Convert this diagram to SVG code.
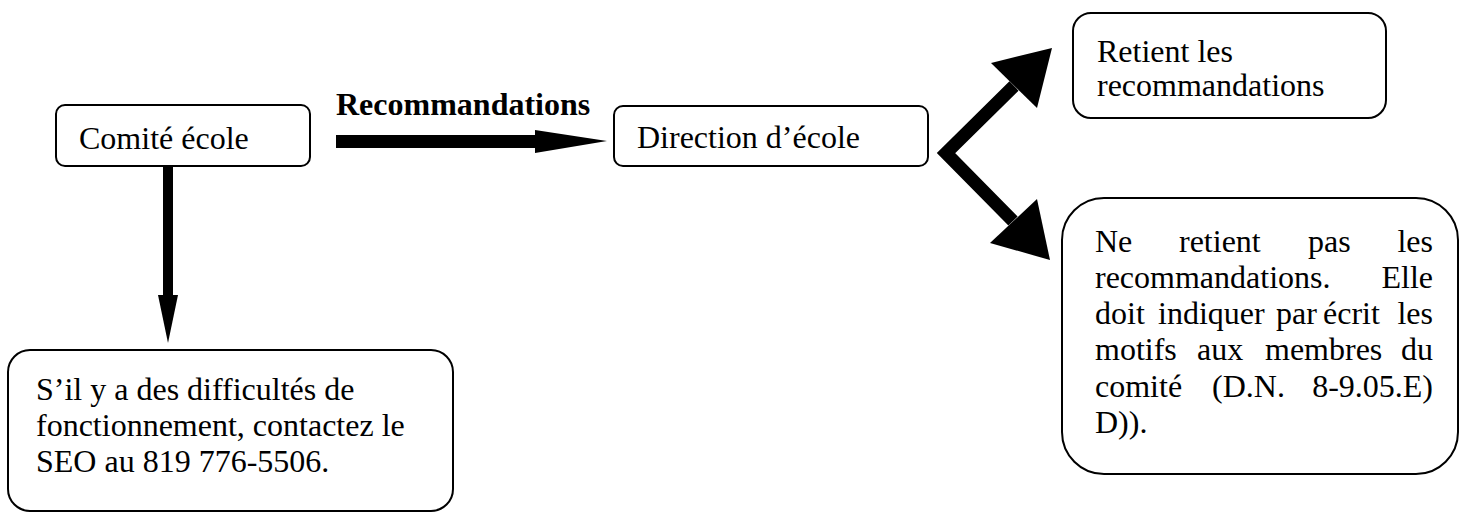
<svg xmlns="http://www.w3.org/2000/svg" width="1460" height="512" viewBox="0 0 1460 512">
<style>
.box{fill:#fff;stroke:#000;stroke-width:2}
.t{font-family:"Liberation Serif","Times New Roman",serif;font-size:32px;fill:#000}
.b{font-weight:bold}
.e{text-anchor:end}
.arr{fill:#000}
</style>
<rect width="1460" height="512" fill="#fff"/>
<g id="connectors">
  <rect class="arr" x="163" y="166" width="10" height="130"/>
  <polygon class="arr" points="158,295 178,295 168,343"/>
  <rect class="arr" x="336" y="135" width="200" height="13"/>
  <polygon class="arr" points="535,130 535,153 607,141"/>
  <polyline points="1014,86 946,153 1013,221" fill="none" stroke="#000" stroke-width="13" stroke-linejoin="miter" stroke-miterlimit="10"/>
  <polygon class="arr" points="1052,48 991,63 1037,108"/>
  <polygon class="arr" points="1050,260 990,243 1037,199"/>
  <text class="t b" x="336" y="115">Recommandations</text>
</g>
<g id="comite">
  <rect class="box" x="56" y="105" width="254" height="61" rx="9"/>
  <text class="t" x="79" y="149">Comité école</text>
</g>
<g id="direction">
  <rect class="box" x="614" y="106" width="314" height="60" rx="9"/>
  <text class="t" x="637" y="148">Direction d’école</text>
</g>
<g id="retient">
  <rect class="box" x="1073" y="13" width="313" height="105" rx="18"/>
  <text class="t" x="1097" y="62">Retient les</text>
  <text class="t" x="1097" y="96">recommandations</text>
</g>
<g id="ne-retient">
  <rect class="box" x="1062" y="198" width="396" height="276" rx="42"/>
  <text class="t" y="252"><tspan x="1095">Ne</tspan><tspan x="1179">retient</tspan><tspan x="1308">pas</tspan></text>
  <text class="t e" x="1433" y="252">les</text>
  <text class="t" x="1095" y="288">recommandations.</text>
  <text class="t e" x="1433" y="288">Elle</text>
  <text class="t" y="324"><tspan x="1095">doit</tspan><tspan x="1158">indiquer</tspan><tspan x="1276">par</tspan><tspan x="1323">écrit</tspan></text>
  <text class="t e" x="1433" y="324">les</text>
  <text class="t" y="360"><tspan x="1095">motifs</tspan><tspan x="1197">aux</tspan><tspan x="1265">membres</tspan></text>
  <text class="t e" x="1433" y="360">du</text>
  <text class="t" y="397"><tspan x="1095">comité</tspan><tspan x="1212">(D.N.</tspan></text>
  <text class="t e" x="1433" y="397">8-9.05.E)</text>
  <text class="t" x="1095" y="433">D)).</text>
</g>
<g id="seo">
  <rect class="box" x="8" y="350" width="445" height="161" rx="22"/>
  <text class="t" x="36" y="400">S’il y a des difficultés de</text>
  <text class="t" x="36" y="436">fonctionnement, contactez le</text>
  <text class="t" x="36" y="472">SEO au 819 776-5506.</text>
</g>
</svg>
